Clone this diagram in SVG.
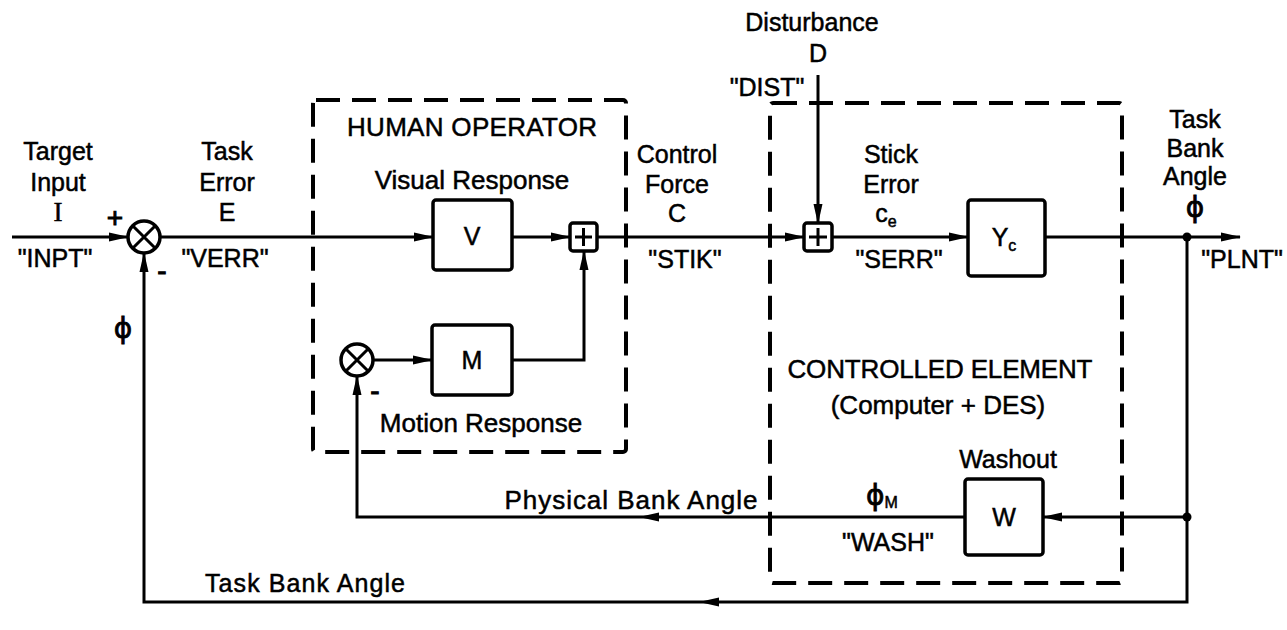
<svg xmlns="http://www.w3.org/2000/svg" width="1287" height="630" viewBox="0 0 1287 630">
<defs>
<style>
text{font-family:"Liberation Sans",Arial,sans-serif;font-size:25px;fill:#000;stroke:#000;stroke-width:0.5;text-anchor:middle}
.h{font-size:26px}
.sub{font-size:16px}
.phi{font-family:"DejaVu Sans",sans-serif;font-size:28px;stroke-width:0.8}
.sg{font-size:28px;stroke-width:1}
.blk{fill:#fff;stroke:#000;stroke-width:3.5}
.dash{fill:none;stroke:#000;stroke-width:4;stroke-dasharray:24 12}
.ln{fill:none;stroke:#000;stroke-width:3}
.arr{fill:none;stroke:#000;stroke-width:3;marker-end:url(#ah)}
</style>
<marker id="ah" markerUnits="userSpaceOnUse" markerWidth="20" markerHeight="10" viewBox="0 0 20 10" refX="19" refY="5" orient="auto">
<path d="M0,0.5 L20,5 L0,9.5 Z" fill="#000"/>
</marker>
</defs>
<rect width="1287" height="630" fill="#fff"/>

<g id="human-operator-box">
<rect class="dash" x="313" y="100" width="313" height="352" rx="3"/>
<text class="h" x="472" y="136" textLength="250">HUMAN OPERATOR</text>
<text class="h" x="472" y="189">Visual Response</text>
<text class="h" x="481" y="432">Motion Response</text>
</g>

<g id="controlled-element-box">
<rect class="dash" x="770" y="103" width="352" height="480" rx="3"/>
<text class="h" x="940" y="378" textLength="305">CONTROLLED ELEMENT</text>
<text class="h" x="938" y="414">(Computer + DES)</text>
</g>

<g id="connectors">
<path class="arr" d="M12,237 H128"/>
<path class="arr" d="M160,237 H433"/>
<path class="arr" d="M512,237 H570"/>
<path class="arr" d="M597,237 H804"/>
<path class="arr" d="M818,75 V223"/>
<path class="arr" d="M832,237 H968"/>
<path class="arr" d="M1045,237 H1240"/>
<path class="arr" d="M1187,237 V602 H700"/>
<path class="arr" d="M700,602 H144 V253"/>
<path class="arr" d="M1187,517 H1043"/>
<path class="arr" d="M965,517 H640"/>
<path class="arr" d="M640,517 H357 V376"/>
<path class="arr" d="M373,360 H432"/>
<path class="arr" d="M512,360 H584 V251"/>
<circle cx="1187" cy="237" r="4.5" fill="#000"/>
<circle cx="1187" cy="517" r="4.5" fill="#000"/>
</g>

<g id="sum-error">
<circle class="blk" cx="144" cy="237" r="16"/>
<path class="ln" d="M132.7,225.7 L155.3,248.3 M155.3,225.7 L132.7,248.3"/>
<text class="sg" x="115" y="227">+</text>
<text class="sg" x="162" y="280">-</text>
</g>

<g id="sum-motion">
<circle class="blk" cx="357" cy="360" r="16"/>
<path class="ln" d="M345.7,348.7 L368.3,371.3 M368.3,348.7 L345.7,371.3"/>
<text class="sg" x="375" y="400">-</text>
</g>

<g id="block-V">
<rect class="blk" x="433" y="200" width="79" height="70" rx="3"/>
<text x="472" y="245">V</text>
</g>

<g id="block-M">
<rect class="blk" x="432" y="325" width="80" height="70" rx="3"/>
<text x="472" y="369">M</text>
</g>

<g id="sum-control">
<rect class="blk" x="570" y="223" width="27" height="28" rx="3"/>
<path class="ln" d="M575,237 H592 M583.5,228 V246"/>
</g>

<g id="sum-disturbance">
<rect class="blk" x="804" y="223" width="28" height="28" rx="3"/>
<path class="ln" d="M809,237 H827 M818,228 V246"/>
</g>

<g id="block-Yc">
<rect class="blk" x="968" y="200" width="77" height="76" rx="3"/>
<text x="1004" y="246">Y<tspan class="sub" dy="5">c</tspan></text>
</g>

<g id="block-W">
<rect class="blk" x="965" y="479" width="78" height="76" rx="3"/>
<text x="1004" y="526">W</text>
<text x="1008" y="468">Washout</text>
</g>

<g id="label-input">
<text x="58" y="160">Target</text>
<text x="58" y="191">Input</text>
<text x="58" y="221" style="font-family:'Liberation Serif',serif;font-size:27px">I</text>
<text x="55" y="267">"INPT"</text>
</g>

<g id="label-error">
<text x="227" y="160">Task</text>
<text x="227" y="191">Error</text>
<text x="227" y="221">E</text>
<text x="225" y="267">"VERR"</text>
<text class="phi" x="123" y="338">ϕ</text>
</g>

<g id="label-control">
<text x="677" y="163">Control</text>
<text x="677" y="193">Force</text>
<text x="677" y="222">C</text>
<text x="685" y="268">"STIK"</text>
</g>

<g id="label-disturbance">
<text x="812" y="31">Disturbance</text>
<text x="818" y="62">D</text>
<text x="767" y="96">"DIST"</text>
</g>

<g id="label-stick-error">
<text x="891" y="163">Stick</text>
<text x="891" y="193">Error</text>
<text x="886" y="222">c<tspan class="sub" dy="5">e</tspan></text>
<text x="899" y="268">"SERR"</text>
</g>

<g id="label-output">
<text x="1195" y="128">Task</text>
<text x="1195" y="157">Bank</text>
<text x="1195" y="185">Angle</text>
<text class="phi" x="1195" y="217">ϕ</text>
<text x="1242" y="268">"PLNT"</text>
</g>

<g id="label-wash">
<text x="882" y="505"><tspan class="phi">ϕ</tspan><tspan class="sub" dy="3">M</tspan></text>
<text x="888" y="551">"WASH"</text>
<text class="h" x="631" y="509" textLength="253">Physical Bank Angle</text>
</g>

<g id="label-task-bank">
<text x="305" y="592" textLength="200">Task Bank Angle</text>
</g>
</svg>
